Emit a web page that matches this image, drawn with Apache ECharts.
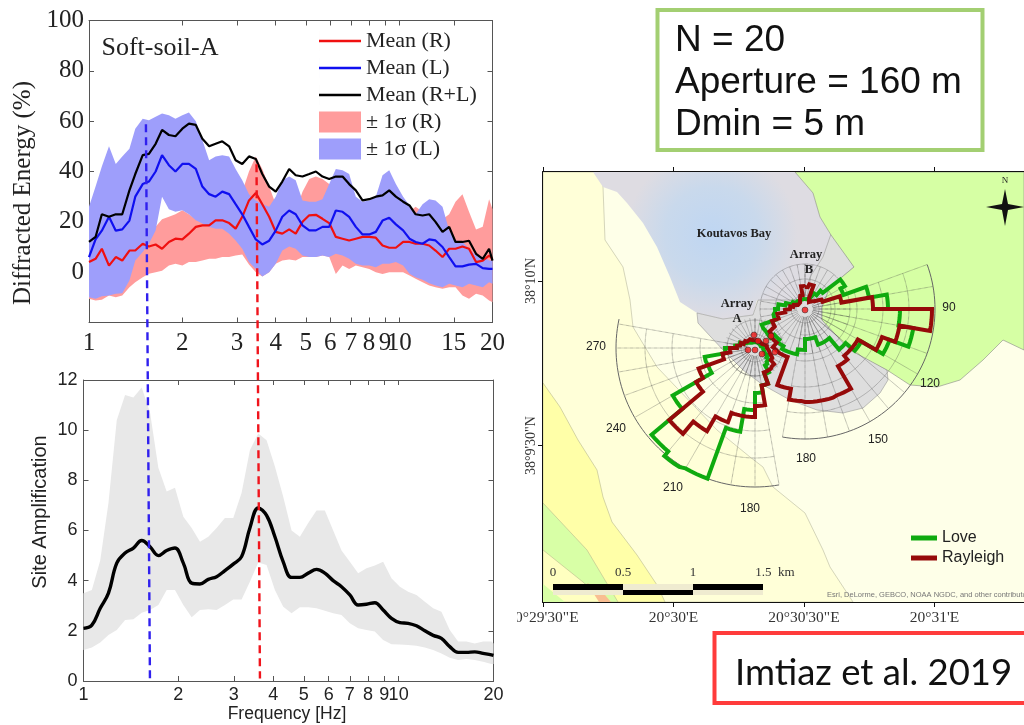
<!DOCTYPE html>
<html><head><meta charset="utf-8">
<style>html,body{margin:0;padding:0;background:#fff}#c{width:1024px;height:725px}</style>
<script src="https://cdn.jsdelivr.net/npm/echarts@6/dist/echarts.min.js"></script>
</head><body><div id="c"></div>
<script>
// ---------- Diffracted energy panel ----------
const freqTop=[1.00,1.05,1.10,1.16,1.22,1.28,1.35,1.41,1.49,1.56,1.64,1.72,1.81,1.90,2.00,2.10,2.21,2.32,2.44,2.56,2.69,2.83,2.97,3.12,3.28,3.45,3.62,3.81,4.00,4.20,4.42,4.64,4.88,5.13,5.39,5.66,5.95,6.25,6.57,6.90,7.25,7.62,8.01,8.41,8.84,9.29,9.76,10.3,10.8,11.3,11.9,12.5,13.1,13.8,14.5,15.2,16.0,16.8,17.7,18.6,19.5,20];
const meanRL=[12,14,23,22,23,23,32.5,39,46.5,47,51,56.5,54.5,54,57,59,58.5,53,50,51,52,50,44.5,43,46,45,39,34,32,36,41,38.5,38,39,40,38,37,38,38,35,32.5,28.5,29,30,30.5,32.5,30,28,26.5,23,22.5,23,20,16,18,12,12,12.5,7.3,5.3,9.3,4.6];
const meanL=[6,13,16.5,22,16.5,17,20.5,30,35,36,40,46.5,42.5,40,43,43,41,34,31,30,32,31,27,23,18,13,11,12.5,16.5,22,24.5,23,18.6,16.6,16.6,18,18,24.5,24,22,18,15,15,16,20.5,21.6,19,16.6,13.3,12,11.3,13,12.6,10,6,2.3,2.3,3,3.3,1.6,1.3,1.3];
const meanR=[4,5.3,9.3,2.6,6,4.6,8.6,8.6,11.3,10.2,11,9.3,12,13.3,13,15.3,18,18.6,18.6,20.6,20.6,19.5,17.3,22,28.5,31.5,27,22,16,15.3,17,15.3,20,22.6,22.8,21.2,19.5,14,13.3,12.6,13.3,14,14,13.7,10.6,9.7,9.7,12,12,11.3,11.3,10.6,8.6,6,9.3,9.3,10.2,9.3,4,4.6,6.6,5.3];
const upperL=[26,34,42,50,43,46,49,57,61,60.4,61.8,63,62.4,61,62.4,63.4,60,52.5,44.5,46,46.5,46,41,36.5,31,28.5,27,26,30,36.5,38,36.5,28.5,28,28,29,35,41,40.5,39,30,28,28.5,30,38.5,40.5,35,30,26.5,23,27,29,28.5,26,16.6,12.6,12,9.3,6.6,6,4.6,4.6];
const lowerL=[-10,-10.6,-9.6,-9.3,-8.6,-8.4,-3.3,4.6,8,11.3,16.6,30,25,24,24.6,23,20.6,19.3,18,17.3,17.3,15.3,12.6,9.3,4,1.3,-1.7,0,3.3,8.6,10.2,9.3,6.6,6,6,6.6,6,7.3,6.6,5.3,3.3,2.6,2.6,2,3.3,3.3,4,2.6,-0.6,-2,-3,-4.4,-5.3,-6,-4.6,-5.3,-6,-4.6,-5.3,-6,-4,-4.6];
const upperR=[20,20,22,18,20,18,20,18,20,17,18,21,22,23,24.6,23,21,21,21,21,20,20,20,32,40,46,41,34,27,22,24,24,32,37,38,37,35,30,28,25,24,23,22,22,22,22,22,23,24,26,24,24,24,21,23,28,31,24,17,18,29,25];
const lowerR=[-10.6,-11.3,-11,-9.3,-10,-9.3,-6,-4,-2,-0.6,0,0.6,2.6,3.3,2.6,4,4,4.6,5.3,5.3,6,6,6.6,7,3,0,-1.7,0,3.3,4.6,5,4.6,6,6,6,6.6,6,-0.7,2.6,1.3,2.6,2,1.3,0,-0.7,0,0,0,-1.3,-2.6,-4,-5.3,-6,-6.6,-6,-6,-9.3,-10.6,-8.6,-9.3,-11.3,-12];
// ---------- Site amplification panel ----------
const freqBot=[1.000,1.063,1.130,1.200,1.275,1.355,1.440,1.530,1.626,1.728,1.836,1.951,2.074,2.204,2.342,2.489,2.645,2.810,2.987,3.174,3.373,3.585,3.810,4.049,4.303,4.573,4.860,5.165,5.489,5.833,6.199,6.588,7.001,7.440,7.907,8.403,8.930,9.490,10.09,10.72,11.39,12.11,12.87,13.67,14.53,15.44,16.41,17.44,18.54,19.70,20];
const siteMean=[2.1,2.23,2.9,3.5,4.7,5.1,5.3,5.6,5.35,5.0,5.2,5.3,4.7,3.9,3.87,4.05,4.16,4.4,4.66,4.96,6.1,6.9,6.6,5.75,4.75,4.13,4.13,4.3,4.45,4.3,4.0,3.76,3.43,3.03,3.06,3.12,2.83,2.5,2.33,2.3,2.2,2.0,1.82,1.7,1.37,1.14,1.14,1.16,1.1,1.04,1.02];
const siteUpper=[3.5,3.63,4.8,7.1,10.4,11.4,11.3,11.7,10.7,8.5,7.55,7.7,6.55,6.1,5.55,5.75,6.1,6.5,6.5,7.5,9.2,9.87,9.6,8.55,7.35,6.0,5.75,6.3,6.8,6.8,6.0,5.2,4.75,4.3,4.5,4.6,4.75,4.1,3.76,3.56,3.43,3.16,2.9,2.76,2.03,1.57,1.57,1.5,1.57,1.57,1.5];
const siteLower=[1.24,1.34,1.53,1.83,2.03,2.43,2.46,2.72,2.83,3.03,3.63,3.63,3.03,2.54,2.83,2.86,2.83,3.03,3.25,3.25,3.96,4.72,4.62,3.63,2.96,2.7,2.94,2.94,2.9,2.8,2.7,2.63,2.3,2.1,2.03,1.97,1.63,1.47,1.46,1.44,1.41,1.34,1.24,1.1,0.93,0.84,0.88,0.84,0.77,0.68,0.68];
const dashBlue=[[1.578,22.2],[1.625,0.1]];
const dashRed=[[3.54,20.6],[3.63,0.1]];
const freqTicks=[1,2,3,4,5,6,7,8,9,10,15,20];
const freqTicksBot=[1,2,3,4,5,6,7,8,9,10,20];
// ---------- Map (sheet units, 130.5 units = 30 arc-seconds) ----------
const lonLabels=['20°29\'30"E','20°30\'E','20°30\'30"E','20°31\'E',''];
const latTicks=[156.4,321];
const latLabels=['38°9\'30"N','38°10\'N'];
const landBase=[[0,0],[481,0],[481,430],[0,430]];
const landPale=[[0,430],[60,430],[60,415],[62,362],[80,335],[87,302],[90,275],[114,235],[174,172],[207,145],[220,135],[230,115],[262,89],[280,52],[287,35],[310,0],[0,0]];
const landYellow=[[0,219],[17,195],[35,162],[54,132],[60,105],[69,80],[94,47],[114,17],[122,0],[0,0]];
const landGreenSW=[[0,99],[44,52],[75,0],[0,0]];
const landInner=[[0,52],[40,20],[62,0],[0,0]];
const landOrange=[[44,19],[56,14],[68,0],[56,0]];
const landCorner=[[0,18],[22,0],[0,0]];
const landGreenNE=[[252,430],[270,409],[277,385],[288,367],[311,335],[287,315],[279,295],[279,282],[307,252],[344,232],[367,217],[394,215],[417,222],[440,242],[460,262],[481,252],[481,430]];
const bay=[[50,430],[252,430],[270,409],[277,385],[288,367],[282,349],[272,332],[265,309],[260,302],[234,300],[214,302],[210,287],[180,283],[154,289],[137,300],[127,325],[114,355],[100,379],[84,399],[74,410],[60,415]];
const softSoil=[[288,368],[300,352],[311,335],[287,315],[279,295],[279,282],[307,252],[327,242],[344,232],[345,222],[337,209],[320,194],[300,189],[274,192],[247,202],[220,217],[200,232],[180,252],[155,279],[154,289],[180,283],[210,287],[215,302],[260,302],[267,325],[280,345]];
const stations=[[211,267],[228,266],[223,261],[215,261],[232,250],[219,248],[205,252],[212,252],[262,292]];
const centerA=[212,254], centerB=[262,293];
// rose radii per 10-degree azimuth bin, from 0 to 350
const loveB=[10,10,12,18,24,46,41,65,83,95,110,90,65,53,38,38,30,30,41,46,46,43,40,45,46,32,30,27,20,14,11,11,10,10,10,10];
const rayleighB=[22,25,12,8,10,12,19,37,68,127,96,82,61,61,66,92,93,93,92,81,51,50,44,42,35,28,20,15,12,10,8,8,8,10,14,23];
const loveA=[6,6,6,6,6,6,6,6,8,8,10,12,15,18,20,28,38,45,62,85,139,141,135,95,50,51,30,20,16,12,10,8,8,6,6,6];
const rayleighA=[8,8,8,8,8,8,8,10,12,14,16,18,20,25,26,26,38,58,69,69,79,96,112,68,60,33,25,18,15,12,12,10,10,8,8,8];

const pt=(c,az,r)=>{const a=az*Math.PI/180;return [+(c[0]+r*Math.sin(a)).toFixed(2),+(c[1]+r*Math.cos(a)).toFixed(2)];};
function rose(c,radii){const out=[];radii.forEach((r,i)=>{for(let k=0;k<=4;k++)out.push(pt(c,i*10+k*2.5,r));});out.push(out[0]);return out;}
function arc(c,r,a0,a1){const o=[];for(let a=a0;a<=a1+0.01;a+=2)o.push(pt(c,a,r));return o;}
function web(c,rings,a0,a1,rOut){let o=[];rings.forEach(r=>{o=o.concat(arc(c,r,a0,a1));o.push([NaN,NaN]);});
  for(let a=a0;a<=a1+0.01;a+=10){o.push(pt(c,a,8));o.push(pt(c,a,rOut));o.push([NaN,NaN]);}return o;}

const serif='"Liberation Serif","Times New Roman",serif', sans='"Liberation Sans",Arial,sans-serif';
const chart=echarts.init(document.getElementById('c'),null,{renderer:'canvas'});

function poly(rows,fill,xi,stroke,lw){return {type:'custom',xAxisIndex:4,yAxisIndex:4,silent:true,z:1,animation:false,
  data:rows,encode:{x:0,y:1},clip:true,
  renderItem:(p,api)=>{if(p.dataIndex!==0)return null;
    return {type:'polygon',shape:{points:rows.map(r=>api.coord(r))},style:{fill:fill,stroke:stroke||'none',lineWidth:lw||0}};}};}
function band(name,f,lo,hi,color,ax){return {type:'custom',name,xAxisIndex:ax,yAxisIndex:ax,silent:true,animation:false,
  itemStyle:{color},data:f.map((x,i)=>[x,lo[i],hi[i]]),encode:{x:0,y:[1,2]},
  renderItem:(p,api)=>{if(p.dataIndex!==0)return null;
    const a=f.map((x,i)=>api.coord([x,hi[i]])),b=f.map((x,i)=>api.coord([x,lo[i]])).reverse();
    return {type:'polygon',shape:{points:a.concat(b)},style:{fill:color}};}};}
function ln(name,f,v,color,lw,ax,smooth){return {type:'line',name,xAxisIndex:ax,yAxisIndex:ax,data:f.map((x,i)=>[x,v[i]]),showSymbol:false,symbol:'none',smooth:smooth||false,
  lineStyle:{color,width:lw},itemStyle:{color},silent:true,animation:false};}
function dash(d,color,ax){return {type:'line',xAxisIndex:ax,yAxisIndex:ax,data:d,showSymbol:false,symbol:'none',clip:false,z:5,
  lineStyle:{color,width:2.4,type:[8,5]},silent:true,animation:false};}
function path(name,rows,color,lw,type,z){return {type:'line',name,xAxisIndex:4,yAxisIndex:4,data:rows,showSymbol:false,symbol:'none',connectNulls:false,
  lineStyle:{color,width:lw,type:type||'solid',join:'miter'},itemStyle:{color},silent:true,animation:false,z:z||2};}

const frame='#555';
function logX(grid,pos,labels,font,size,ticks,margin){return {type:'log',logBase:10,gridIndex:grid,min:1,max:20,position:pos,
  axisLine:{show:true,onZero:false,lineStyle:{color:frame,width:1}},splitLine:{show:false},minorTick:{show:false},
  axisTick:{show:true,inside:true,length:5,lineStyle:{color:frame},customValues:ticks},
  axisLabel:labels?{show:true,customValues:ticks,color:'#222',fontFamily:font,fontSize:size,margin,hideOverlap:false,formatter:v=>String(Math.round(v))}:{show:false}};}
function valY(grid,pos,min,max,interval,labels,font,size,margin){return {type:'value',gridIndex:grid,min,max,interval,position:pos,
  axisLine:{show:true,onZero:false,lineStyle:{color:frame,width:1}},splitLine:{show:false},
  axisTick:{show:true,inside:true,length:5,lineStyle:{color:frame}},
  axisLabel:labels?{show:true,color:'#222',fontFamily:font,fontSize:size,margin,formatter:v=>v<0?'':String(v)}:{show:false}};}

const textEl=(x,y,t,font,size,extra)=>({type:'text',x,y,z:20,silent:true,style:Object.assign({text:t,fontFamily:font,fontSize:size,fill:'#222',textAlign:'center',textVerticalAlign:'middle'},extra||{})});
const vertText=(x,y,t,font,size)=>({type:'text',x,y,rotation:Math.PI/2,z:20,silent:true,style:{text:t,fontFamily:font,fontSize:size,fill:'#222',textAlign:'center',textVerticalAlign:'middle'}});
const rectEl=(x,y,w,h,fill,stroke)=>({type:'rect',z:19,silent:true,shape:{x,y,width:w,height:h},style:{fill,stroke:stroke||'none',lineWidth:stroke?4:0}});
const bar=(x,y,w,h,fill)=>({type:'rect',z:19,silent:true,shape:{x,y,width:w,height:h},style:{fill}});
const lineIcon='path://M0 0H0.01V21H0Z M0 9.25H42V11.75H0Z';

const bayFill=new echarts.graphic.RadialGradient(0.5,0.42,0.58,[{offset:0,color:'#BFD6F2'},{offset:0.55,color:'#C9D9EC'},{offset:1,color:'#DEDCE2'}]);

const option={
  backgroundColor:'#fff',animation:false,
  grid:[
    {left:89,top:20.5,width:403.5,height:302,outerBoundsMode:'none'},
    {left:83.5,top:380,width:410,height:301,outerBoundsMode:'none'},
    {left:543,top:172,width:522,height:430,outerBoundsMode:'none'}
  ],
  xAxis:[
    logX(0,'bottom',true,serif,25,freqTicks,8),
    logX(0,'top',false,serif,25,freqTicks),
    logX(1,'bottom',true,sans,18,freqTicksBot,5),
    logX(1,'top',false,sans,18,freqTicksBot),
    {type:'value',gridIndex:2,min:0,max:522,interval:130.5,position:'bottom',splitLine:{show:false},
      axisLine:{onZero:false,lineStyle:{color:'#111',width:2}},axisTick:{show:true,length:5,lineStyle:{color:'#111'}},
      axisLabel:{color:'#333',fontFamily:serif,fontSize:15.5,margin:8,hideOverlap:false,formatter:v=>lonLabels[Math.round(v/130.5)]||''}},
    {type:'value',gridIndex:2,min:0,max:522,interval:130.5,position:'top',splitLine:{show:false},
      axisLine:{onZero:false,lineStyle:{color:'#111',width:2}},axisTick:{show:true,length:5,lineStyle:{color:'#111'}},axisLabel:{show:false}}
  ],
  yAxis:[
    valY(0,'left',-20,100,20,true,serif,25,5),
    valY(0,'right',-20,100,20,false),
    valY(1,'left',0,12,2,true,sans,18,6),
    valY(1,'right',0,12,2,false),
    {type:'value',gridIndex:2,min:0,max:430,position:'left',splitLine:{show:false},
      axisLine:{onZero:false,lineStyle:{color:'#111',width:2}},
      axisTick:{show:true,length:5,customValues:latTicks,lineStyle:{color:'#111'}},
      axisLabel:{customValues:latTicks,rotate:90,color:'#333',fontFamily:serif,fontSize:14,margin:5,hideOverlap:false,
        formatter:v=>latLabels[latTicks.indexOf(v)]||''}}
  ],
  legend:[
    {left:319,top:30,padding:0,orient:'vertical',itemWidth:42,itemHeight:21,itemGap:5,selectedMode:false,
      textStyle:{fontFamily:serif,fontSize:22,color:'#222'},
      data:[{name:'Mean (R)',icon:lineIcon},{name:'Mean (L)',icon:lineIcon},{name:'Mean (R+L)',icon:lineIcon},{name:'± 1σ (R)',icon:'rect'},{name:'± 1σ (L)',icon:'rect'}]},
    {left:911,top:530,padding:0,orient:'vertical',itemWidth:26,itemHeight:5,itemGap:4,selectedMode:false,
      textStyle:{fontFamily:sans,fontSize:16,color:'#222'},
      data:[{name:'Love',icon:'rect'},{name:'Rayleigh',icon:'rect'}]}
  ],
  series:[
    band('± 1σ (R)',freqTop,lowerR,upperR,'#FF9C9C',0),
    band('± 1σ (L)',freqTop,lowerL,upperL,'#9E9EFB',0),
    ln('Mean (R)',freqTop,meanR,'#F01010',2.2,0),
    ln('Mean (L)',freqTop,meanL,'#1010F0',2.2,0),
    ln('Mean (R+L)',freqTop,meanRL,'#000',2.2,0),
    band('siteBand',freqBot,siteLower,siteUpper,'#E8E8E8',2),
    ln('siteMean',freqBot,siteMean,'#000',3.4,2,0.4),
    dash(dashBlue,'#3020EE',2),
    dash(dashRed,'#F0141C',2),
    poly(landBase,'#FEFFE8'),
    poly(landPale,'#FFFFD8',0,'#B9B9A0',0.6),
    poly(landYellow,'#FFFFA8',0,'#B9B98E',0.6),
    poly(landGreenSW,'#D8FFA6',0,'#B9B98E',0.6),
    poly(landInner,'#FFFFC0',0,'#B9B98E',0.6),
    poly(landOrange,'#F9BE92'),
    poly(landCorner,'#D8FFA6'),
    poly(bay,bayFill),
    poly(softSoil,'#DEDEDE',0,'#999',0.6),
    poly(landGreenNE,'#D6FFA4',0,'#888',0.6),
    path('webA',web(centerA,[28,55,83,110],170,280,138),'#444',0.6,'dotted'),
    path('webA2',web(centerA,[14,28],0,360,30),'#444',0.6,'dotted'),
    path('webB',web(centerB,[26,52,78,104],70,190,130),'#444',0.6,'dotted'),
    path('webB2',web(centerB,[14,30,45],0,360,45),'#444',0.6,'dotted'),
    path('arcA',arc(centerA,139,170,282),'#666',1),
    path('arcB',arc(centerB,130,70,190),'#666',1),
    path('Love',rose(centerB,loveB),'#0FAA0F',4,'solid',3),
    path('Love',rose(centerA,loveA),'#0FAA0F',4,'solid',3),
    path('Rayleigh',rose(centerB,rayleighB),'#960A0A',4,'solid',4),
    path('Rayleigh',rose(centerA,rayleighA),'#960A0A',4,'solid',4),
    {type:'scatter',xAxisIndex:4,yAxisIndex:4,data:stations,symbol:'circle',symbolSize:6,z:5,silent:true,animation:false,
      itemStyle:{color:'#F01818',borderColor:'#222',borderWidth:0.6}}
  ],
  graphic:{elements:[
    textEl(160,48,'Soft-soil-A',serif,26),
    vertText(23,193,'Diffracted Energy (%)',serif,25),
    vertText(40.5,512,'Site Amplification',sans,20),
    rectEl(657.5,10,325,140,'#fff','#A3CF72'),
    textEl(675,41,'N = 20',sans,37,{textAlign:'left',fill:'#111'}),
    textEl(675,83,'Aperture = 160 m',sans,37,{textAlign:'left',fill:'#111'}),
    textEl(675,125,'Dmin = 5 m',sans,37,{textAlign:'left',fill:'#111'}),
    rectEl(714.5,633,320,70,'#fff','#FF3B3B'),
    textEl(735,673,'Imtiaz et al. 2019','Lato',36.5,{textAlign:'left',fill:'#111'}),
    textEl(734,234,'Koutavos Bay',serif,12.5,{fontWeight:'bold'}),
    textEl(806,255,'Array',serif,12.5,{fontWeight:'bold'}),
    textEl(809,270,'B',serif,12.5,{fontWeight:'bold'}),
    textEl(737,304,'Array',serif,12.5,{fontWeight:'bold'}),
    textEl(737,319,'A',serif,12.5,{fontWeight:'bold'}),
    textEl(949,308,'90',sans,12),textEl(930,384,'120',sans,12),textEl(878,440,'150',sans,12),
    textEl(806,459,'180',sans,12),textEl(596,347,'270',sans,12),textEl(616,429,'240',sans,12),
    textEl(673,488,'210',sans,12),textEl(750,509,'180',sans,12),
    textEl(1005,181,'N',serif,9),
    {type:'polygon',z:19,silent:true,shape:{points:[[1005,189],[1008,204],[1024,207],[1008,210],[1005,226],[1002,210],[986,207],[1002,204]]},style:{fill:'#111'}},
    bar(553,584,210,11,'#EFEBD0'),
    bar(553,584,70,6,'#000'),bar(623,590,70,5,'#000'),bar(693,584,70,6,'#000'),
    textEl(553,573,'0',serif,13,{fill:'#333'}),textEl(623,573,'0.5',serif,13,{fill:'#333'}),
    textEl(693,573,'1',serif,13,{fill:'#333'}),textEl(775,573,'1.5  km',serif,13,{fill:'#333'}),
    textEl(827,595,'Esri, DeLorme, GEBCO, NOAA NGDC, and other contributors',sans,7.5,{textAlign:'left',fill:'#777'}),
    textEl(287,714,'Frequency [Hz]',sans,17.5),
    bar(0,720,512,5,'#fff'),
    bar(500,608,17,20,'#fff')
  ]}
};
chart.setOption(option);
</script></body></html>
